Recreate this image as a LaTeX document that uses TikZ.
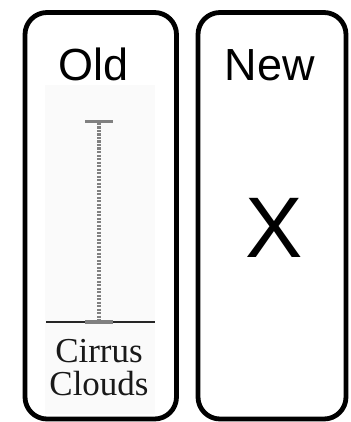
\documentclass[tikz,border=0pt]{standalone}
\usepackage{fontspec}
\setmainfont{Liberation Sans}
\newfontfamily\serifface{Liberation Serif}
\begin{document}
\begin{tikzpicture}[x=1pt,y=-1pt,
  panel/.style={draw=black,line width=4.8pt,rounded corners=22pt},
  headtxt/.style={inner sep=0pt,anchor=base,font=\fontsize{45}{54}\selectfont},
  bigtxt/.style={inner sep=0pt,anchor=base,font=\fontsize{86}{100}\selectfont},
  captxt/.style={inner sep=0pt,anchor=base,align=center,text=black!90,font=\serifface\fontsize{35}{33}\selectfont},
  barline/.style={draw=black!50,line width=3.2pt,dash pattern=on 2.2pt off 1.3pt},
  barcap/.style={draw=black!50,line width=3.4pt}]
\useasboundingbox (0,0) rectangle (350,422);
\fill[white] (0,0) rectangle (350,422);
% panels
\draw[panel] (25,12.5) rectangle (176.5,419);
\draw[panel] (198,12.5) rectangle (346,419);
% faint background of image
\fill[black!2] (45,85) rectangle (155,414);
% titles
\node[headtxt] (old) at (94,81) {Old};
\node[headtxt] (new) at (270,81) {New};
\node[bigtxt] (x) at (274.5,257) {X};
% bar
\coordinate (ttop) at (99,123);
\coordinate (tbot) at (99,321);
\coordinate (capl) at (85,121.5);
\coordinate (capr) at (113,121.5);
\draw[barline] (ttop) -- (tbot);
\draw[barcap] (capl) -- (capr);
\coordinate (basel) at (46,322);
\coordinate (baser) at (155,322);
\draw[line width=1.8pt,black!85] (basel) -- (baser);
\coordinate (gl) at (85,322);
\coordinate (gr) at (113,322);
\draw[barcap] (gl) -- (gr);
% caption
\node[captxt] (cirrus) at (99,362) {Cirrus};
\node[captxt] (clouds) at (99,395) {Clouds};
\end{tikzpicture}
\end{document}
